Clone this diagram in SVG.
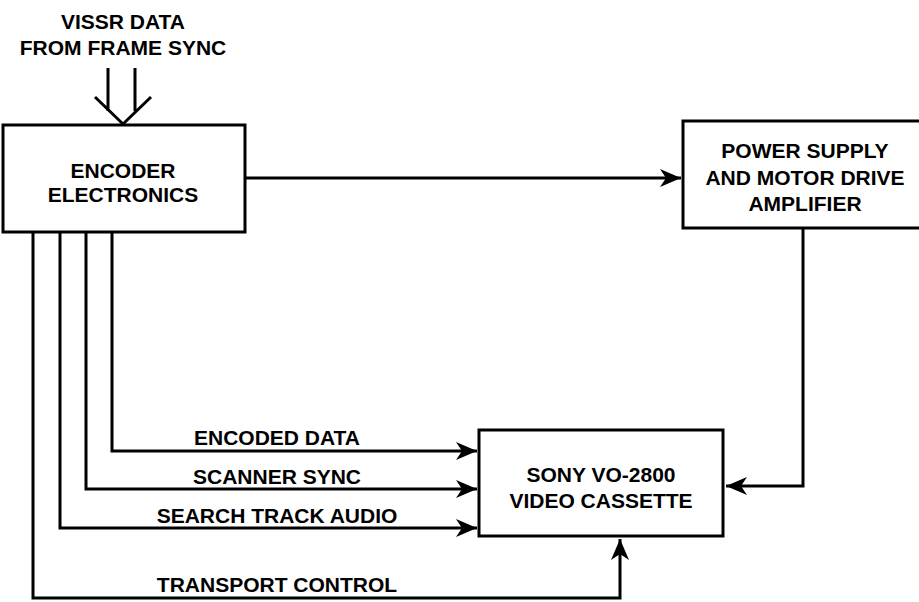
<svg xmlns="http://www.w3.org/2000/svg" width="919" height="602" viewBox="0 0 919 602">
<style>
  .box { fill: #fff; stroke: #000; stroke-width: 3; }
  .ln { fill: none; stroke: #000; stroke-width: 3; stroke-linejoin: miter; }
  .arr { marker-end: url(#ah); }
  text { font-family: "Liberation Sans", Arial, sans-serif; font-weight: bold; font-size: 21px; fill: #000; text-anchor: middle; }
</style>
<defs>
  <marker id="ah" markerUnits="userSpaceOnUse" viewBox="-22 -10 24 20" refX="0" refY="0" markerWidth="24" markerHeight="20" orient="auto">
    <path d="M0,0 L-21,-9 L-15,0 L-21,9 Z" fill="#000"/>
  </marker>
</defs>
<rect width="919" height="602" fill="#fff"/>

<g id="vissr-input">
  <text x="123" y="29">VISSR DATA</text>
  <text x="123" y="55">FROM FRAME SYNC</text>
  <path class="ln" d="M108,68 V111 M135,68 V111 M95,97 L123,124 L151,97"/>
</g>

<g id="connectors">
  <path class="ln arr" d="M245,178 H681"/>
  <path class="ln arr" d="M803,228 V486 H726"/>
  <path class="ln arr" d="M112,233 V451 H477"/>
  <path class="ln arr" d="M86,233 V489 H477"/>
  <path class="ln arr" d="M60,233 V528 H477"/>
  <path class="ln arr" d="M33,233 V598 H620 V539"/>
</g>

<g id="encoder">
  <rect class="box" x="3" y="125" width="242" height="107"/>
  <text x="123" y="178">ENCODER</text>
  <text x="123" y="202">ELECTRONICS</text>
</g>

<g id="power-supply">
  <rect class="box" x="683" y="121" width="250" height="107"/>
  <text x="805" y="158">POWER SUPPLY</text>
  <text x="805" y="185">AND MOTOR DRIVE</text>
  <text x="805" y="211">AMPLIFIER</text>
</g>

<g id="sony-vcr">
  <rect class="box" x="479" y="430" width="244" height="106"/>
  <text x="601" y="482">SONY VO-2800</text>
  <text x="601" y="508">VIDEO CASSETTE</text>
</g>

<g id="labels">
  <text x="277" y="445">ENCODED DATA</text>
  <text x="277" y="484">SCANNER SYNC</text>
  <text x="277" y="523">SEARCH TRACK AUDIO</text>
  <text x="277" y="592">TRANSPORT CONTROL</text>
</g>
</svg>
